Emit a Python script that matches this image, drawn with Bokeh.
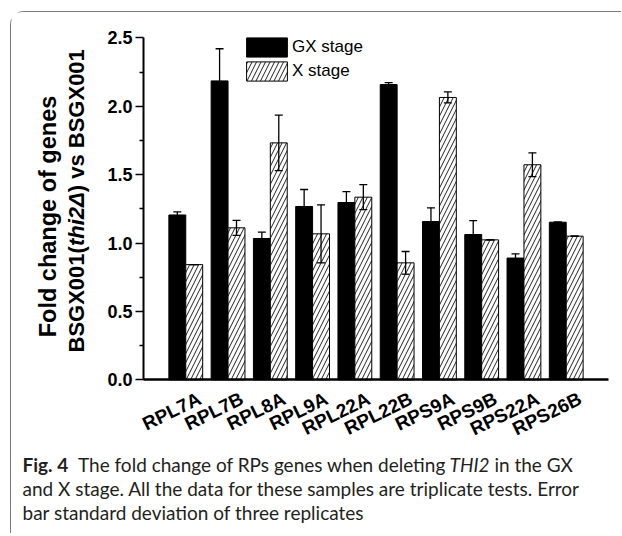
import subprocess
from PIL import ImageFont
from bokeh.plotting import figure
from bokeh.models import (Range1d, FixedTicker, Label, LabelSet, ColumnDataSource, LinearAxis,
                          Whisker, TeeHead, Legend, LegendItem, NumeralTickFormatter)
from bokeh.core.properties import value
from bokeh.embed import file_html
from bokeh.resources import INLINE

# ---------------- data ----------------
categories = ["RPL7A", "RPL7B", "RPL8A", "RPL9A", "RPL22A",
              "RPL22B", "RPS9A", "RPS9B", "RPS22A", "RPS26B"]
gx_stage = [1.205, 2.185, 1.033, 1.267, 1.296, 2.158, 1.157, 1.062, 0.890, 1.152]
gx_err = [0.022, 0.235, 0.046, 0.124, 0.080, 0.015, 0.100, 0.102, 0.031, 0.0]
x_stage = [0.842, 1.111, 1.732, 1.067, 1.335, 0.855, 2.064, 1.023, 1.572, 1.050]
x_err = [0.0, 0.055, 0.203, 0.212, 0.091, 0.083, 0.040, 0.0, 0.087, 0.0]
y_ticks = [0.0, 0.5, 1.0, 1.5, 2.0, 2.5]
y_minor_ticks = [0.25, 0.75, 1.25, 1.75, 2.25]
legend_labels = ["GX stage", "X stage"]
y_title_1 = "Fold change of genes"
y_title_2 = [("BSGX001(", "bold"), ("thi2\u0394", "bold italic"), (") vs BSGX001", "bold")]
caption_lines = [
    [("Fig. 4", "bold"), ("  The fold change of RPs genes when deleting ", "normal"),
     ("THI2", "italic"), (" in the GX", "normal")],
    [("and X stage. All the data for these samples are triplicate tests. Error", "normal")],
    [("bar standard deviation of three replicates", "normal")],
]

# ---------------- text measuring helpers ----------------
_font_cache = {}


def _load_font(family, style):
    key = (family, style)
    if key in _font_cache:
        return _font_cache[key]
    pattern = family
    if "bold" in style:
        pattern += ":bold"
    if "italic" in style:
        pattern += ":italic"
    font = None
    try:
        path = subprocess.run(["fc-match", "-f", "%{file}", pattern], capture_output=True,
                              text=True, timeout=5).stdout.strip()
        if path:
            font = ImageFont.truetype(path, 100)
            try:
                axes = font.get_variation_axes()
                vals = []
                for ax in axes:
                    name = ax.get("name", b"")
                    if isinstance(name, bytes):
                        name = name.decode("latin-1")
                    if "eight" in name:
                        vals.append(700 if "bold" in style else 400)
                    elif "idth" in name:
                        vals.append(100)
                    else:
                        vals.append(ax.get("default", ax.get("minimum", 0)))
                font.set_variation_by_axes(vals)
            except Exception:
                pass
    except Exception:
        font = None
    _font_cache[key] = font
    return font


def text_width(text, family, style, size):
    f = _load_font(family, style)
    if f is not None:
        try:
            return f.getlength(text) * size / 100.0
        except Exception:
            pass
    return len(text) * 0.55 * size


# ---------------- geometry (page px) ----------------
OX, OY = 11, 12            # canvas origin on the page (css margin + border)
W, H = 611, 522
PX_X0, PX_X1 = 143.0, 608.0      # page px of x = -1 and x = 10
DX0, DX1 = -1.0, 10.0
PX_Y0, PX_Y1 = 379.3, 37.3       # page px of y = 0 and y = 2.5
DY0, DY1 = 0.0, 2.5
kx = (DX1 - DX0) / (PX_X1 - PX_X0)
ky = (DY1 - DY0) / (PX_Y0 - PX_Y1)
x_start = DX0 + (OX - PX_X0) * kx
x_end = DX0 + (OX + W - PX_X0) * kx
y_start = DY0 + (PX_Y0 - (OY + H)) * ky
y_end = DY0 + (PX_Y0 - OY) * ky


def sx(px):
    return px - OX


def sy(py):
    return OY + H - py


p = figure(width=W, height=H, output_backend="svg", toolbar_location=None,
           x_range=Range1d(x_start, x_end), y_range=Range1d(y_start, y_end),
           x_axis_location=None, y_axis_location=None,
           min_border=0, min_border_left=0, min_border_right=0,
           min_border_top=0, min_border_bottom=0)
p.styles = {"border-left": "1px solid #7a7a7a", "border-top": "1px solid #7a7a7a",
            "border-top-left-radius": "14px", "margin-left": "10px", "margin-top": "11px"}
p.outline_line_color = None
p.background_fill_color = "white"
p.border_fill_color = "white"
p.xgrid.visible = False
p.ygrid.visible = False

idx = list(range(len(categories)))
src = ColumnDataSource(dict(
    xg=[i - 0.2 for i in idx], xx=[i + 0.2 for i in idx],
    gx=gx_stage, xs=x_stage,
    gx_up=[v + e for v, e in zip(gx_stage, gx_err)], gx_lo=[v - e for v, e in zip(gx_stage, gx_err)],
    xs_up=[v + e for v, e in zip(x_stage, x_err)], xs_lo=[v - e for v, e in zip(x_stage, x_err)],
))

r_gx = p.vbar(x="xg", top="gx", width=0.4, bottom=0, source=src,
              fill_color="black", line_color="black", line_width=1)
r_x = p.vbar(x="xx", top="xs", width=0.4, bottom=0, source=src,
             fill_color="white", line_color="black", line_width=1,
             hatch_pattern="/", hatch_scale=9, hatch_weight=1.0, hatch_color="#222222")

for base, up, lo in (("xg", "gx_up", "gx_lo"), ("xx", "xs_up", "xs_lo")):
    w = Whisker(base=base, upper=up, lower=lo, source=src, level="overlay",
                line_color="black", line_width=1.3,
                upper_head=TeeHead(size=8, line_color="black", line_width=1.3),
                lower_head=TeeHead(size=8, line_color="black", line_width=1.3))
    p.add_layout(w)

# axes (library axes, pinned at data locations)
yax = LinearAxis(fixed_location=DX0, bounds=(0, 2.5))
yax.ticker = FixedTicker(ticks=y_ticks, minor_ticks=y_minor_ticks)
yax.formatter = NumeralTickFormatter(format="0.0")
yax.axis_line_width = 2
yax.major_tick_line_width = 1.5
yax.minor_tick_line_width = 1.5
yax.major_tick_out = 8
yax.major_tick_in = 0
yax.minor_tick_out = 4
yax.minor_tick_in = 0
yax.major_label_standoff = 3
yax.major_label_text_font = "Liberation Sans"
yax.major_label_text_font_style = "bold"
yax.major_label_text_font_size = "18px"
yax.major_label_text_color = "black"
p.add_layout(yax, "left")

xax = LinearAxis(fixed_location=0, bounds=(DX0, DX1))
xax.ticker = FixedTicker(ticks=[])
xax.axis_line_width = 2.5
xax.major_tick_line_color = None
xax.minor_tick_line_color = None
xax.major_label_text_color = None
p.add_layout(xax, "below")

# rotated category labels
lab_src = ColumnDataSource(dict(x=[i + 0.33 for i in idx], y=[sy(397)] * len(idx), text=categories))
p.add_layout(LabelSet(x="x", y="y", y_units="screen", text="text", source=lab_src,
                      angle=26, angle_units="deg", text_align="right", text_baseline="middle",
                      text_font=value("Liberation Sans"), text_font_style="bold",
                      text_font_size="19px", text_color="black"))

# y-axis title (two lines, rotated)
TSZ1, TSZ2 = 23.5, 22
p.add_layout(Label(x=sx(47), y=sy(216), x_units="screen", y_units="screen",
                   text=y_title_1, angle=90, angle_units="deg", text_align="center",
                   text_baseline="middle", text_font="Liberation Sans",
                   text_font_style="bold", text_font_size=f"{TSZ1}px", text_color="black"))
cur = sy(352)
for txt, sty in y_title_2:
    lead = len(txt) - len(txt.lstrip())
    pos = cur + text_width(txt[:lead], "Liberation Sans", sty, TSZ2)
    p.add_layout(Label(x=sx(76), y=pos, x_units="screen", y_units="screen",
                       text=txt.strip(), angle=90, angle_units="deg", text_align="left",
                       text_baseline="middle", text_font="Liberation Sans",
                       text_font_style=sty, text_font_size=f"{TSZ2}px", text_color="black"))
    cur += text_width(txt, "Liberation Sans", sty, TSZ2)

# legend
legend = Legend(items=[LegendItem(label=legend_labels[0], renderers=[r_gx]),
                       LegendItem(label=legend_labels[1], renderers=[r_x])],
                location=(sx(241), sy(83)), glyph_width=51, glyph_height=24, spacing=0,
                padding=0, margin=0, border_line_color=None, background_fill_alpha=0,
                label_standoff=0, label_height=20,
                label_text_font="Liberation Sans", label_text_font_size="17px",
                label_text_color="black")
p.add_layout(legend)

# caption
CAP_FONT = "Lato"
w100 = sum(text_width(t, CAP_FONT, s, 100) for t, s in caption_lines[0])
cap_size = max(13.0, min(19.0, 565.0 / w100 * 100.0))
baselines = [464, 488, 512]
for line, base_y in zip(caption_lines, baselines):
    cur = sx(22)
    for txt, sty in line:
        lead = len(txt) - len(txt.lstrip())
        pos = cur + text_width(txt[:lead], CAP_FONT, sty, cap_size)
        fs = "bold" if sty == "bold" else ("italic" if sty == "italic" else "normal")
        p.add_layout(Label(x=pos, y=sy(base_y), x_units="screen", y_units="screen",
                           text=txt.strip(), text_align="left", text_baseline="alphabetic",
                           text_font=CAP_FONT, text_font_style=fs,
                           text_font_size=f"{cap_size:.2f}px", text_color="#231f20"))
        cur += text_width(txt, CAP_FONT, sty, cap_size)

open("out.html", "w").write(file_html(p, INLINE))
